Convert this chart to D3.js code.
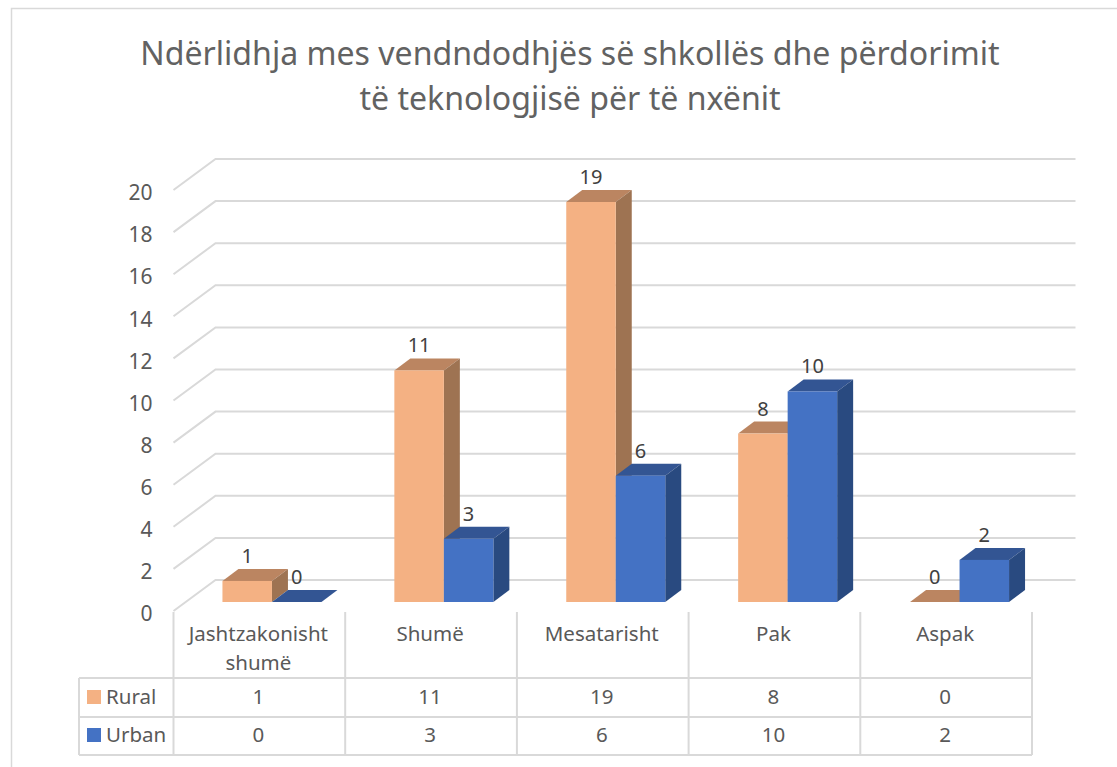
<!DOCTYPE html>
<html><head><meta charset="utf-8">
<style>html,body{margin:0;padding:0;background:#fff;overflow:hidden}svg{display:block}</style>
<script src="https://cdn.jsdelivr.net/npm/d3@7/dist/d3.min.js"></script></head>
<body><svg id="c" width="1117" height="767"></svg>
<script>
const categories=["Jashtzakonisht shumë","Shumë","Mesatarisht","Pak","Aspak"];
const categoryLines=[["Jashtzakonisht","shumë"],["Shumë"],["Mesatarisht"],["Pak"],["Aspak"]];
const seriesNames=["Rural","Urban"];
const rural=[1,11,19,8,0];
const urban=[0,3,6,10,2];
const yTicks=[0,2,4,6,8,10,12,14,16,18,20];
const titleLines=["Ndërlidhja mes vendndodhjës së shkollës dhe përdorimit","të teknologjisë për të nxënit"];
const colors={Rural:["#f4b183","#bb8561","#9e7352"],Urban:["#4472c4","#335593","#294a80"]};
const grey="#d9d9d9",txt="#595959",lab="#404040";
const font='"Noto Sans"';
const svg=d3.select("#c");
const W=858.5,gridW=860,dx=42,dy=-31,bdx=16,bdy=-12;
svg.append("path").attr("d","M11.5,767V8.5H1117").attr("fill","none").attr("stroke",grey).attr("stroke-width",1.5);
svg.selectAll(".t").data(titleLines).join("text").attr("x",570).attr("y",(d,i)=>65+i*44.5).attr("text-anchor","middle").attr("font-size",32.1).attr("fill","#626262").style("font-family",font).text(d=>d);
const x0=173.5,floorFront=611;
const y=d3.scaleLinear().domain([0,20]).range([floorFront,floorFront-421]);
const xTable=d3.scaleBand().domain(categories).range([x0,x0+W]);
const xBars=d3.scaleBand().domain(categories).range([x0+12.5,x0+12.5+W+1]);
const barH=d3.scaleLinear().domain([0,19]).range([602,202]);
const g=svg.append("g");
g.selectAll("path").data(yTicks).join("path").attr("d",d=>{const p=d3.path();p.moveTo(x0,y(d));p.lineTo(x0+dx,y(d)+dy);p.lineTo(x0+dx+gridW,y(d)+dy);return p.toString();}).attr("fill","none").attr("stroke",grey).attr("stroke-width",2);
const axis=d3.axisLeft(y).tickValues(yTicks).tickSize(0).tickPadding(22);
const ag=svg.append("g").attr("transform",`translate(${x0+1},3)`).call(axis);
ag.select(".domain").remove();
ag.selectAll("text").attr("font-size",21).attr("fill",txt).style("font-family",font);
const bw=49.5;
function bar(sel,v,x,cols){
 const top=barH(v),b=barH(0);
 sel.append("path").attr("d",`M${x},${top}L${x+bdx},${top+bdy}L${x+bw+bdx},${top+bdy}L${x+bw},${top}Z`).attr("fill",cols[1]);
 sel.append("path").attr("d",`M${x+bw},${top}L${x+bw+bdx},${top+bdy}L${x+bw+bdx},${b+bdy}L${x+bw},${b}Z`).attr("fill",cols[2]);
 if(v>0) sel.append("rect").attr("x",x).attr("y",top).attr("width",bw).attr("height",b-top).attr("fill",cols[0]);
}
categories.forEach((c,i)=>{
 const cx=xBars(c)+xBars.bandwidth()/2;
 const gc=svg.append("g");
 bar(gc,rural[i],cx-bw,colors.Rural);
 bar(gc,urban[i],cx,colors.Urban);
 gc.append("text").attr("x",cx-bw/2).attr("y",barH(rural[i])+bdy-6).attr("text-anchor","middle").attr("font-size",20).attr("fill",lab).style("font-family",font).text(rural[i]);
 gc.append("text").attr("x",cx+bw/2).attr("y",barH(urban[i])+bdy-6).attr("text-anchor","middle").attr("font-size",20).attr("fill",lab).style("font-family",font).text(urban[i]);
});
const rows=[678,717,755];
const tg=svg.append("g").attr("stroke",grey).attr("stroke-width",2);
rows.forEach(r=>tg.append("line").attr("x1",79).attr("x2",x0+W).attr("y1",r).attr("y2",r));
tg.append("line").attr("x1",79).attr("x2",79).attr("y1",678).attr("y2",755);
const edges=categories.map(c=>xTable(c)).concat([x0+W]);
edges.forEach(e=>tg.append("line").attr("x1",e).attr("x2",e).attr("y1",612).attr("y2",755));
const tf=20.5;
categories.forEach((c,i)=>{
 const cx=xTable(c)+xTable.bandwidth()/2-1;
 categoryLines[i].forEach((l,k)=>svg.append("text").attr("x",cx).attr("y",641+k*29).attr("text-anchor","middle").attr("font-size",tf).attr("fill",txt).style("font-family",font).text(l));
 svg.append("text").attr("x",cx).attr("y",704).attr("text-anchor","middle").attr("font-size",tf).attr("fill",txt).style("font-family",font).text(rural[i]);
 svg.append("text").attr("x",cx).attr("y",742).attr("text-anchor","middle").attr("font-size",tf).attr("fill",txt).style("font-family",font).text(urban[i]);
});
seriesNames.forEach((s,i)=>{
 svg.append("rect").attr("x",87).attr("y",690+i*38).attr("width",14).attr("height",14).attr("fill",colors[s][0]);
 svg.append("text").attr("x",106).attr("y",704+i*38).attr("font-size",tf).attr("fill",txt).style("font-family",font).text(s);
});
</script></body></html>
